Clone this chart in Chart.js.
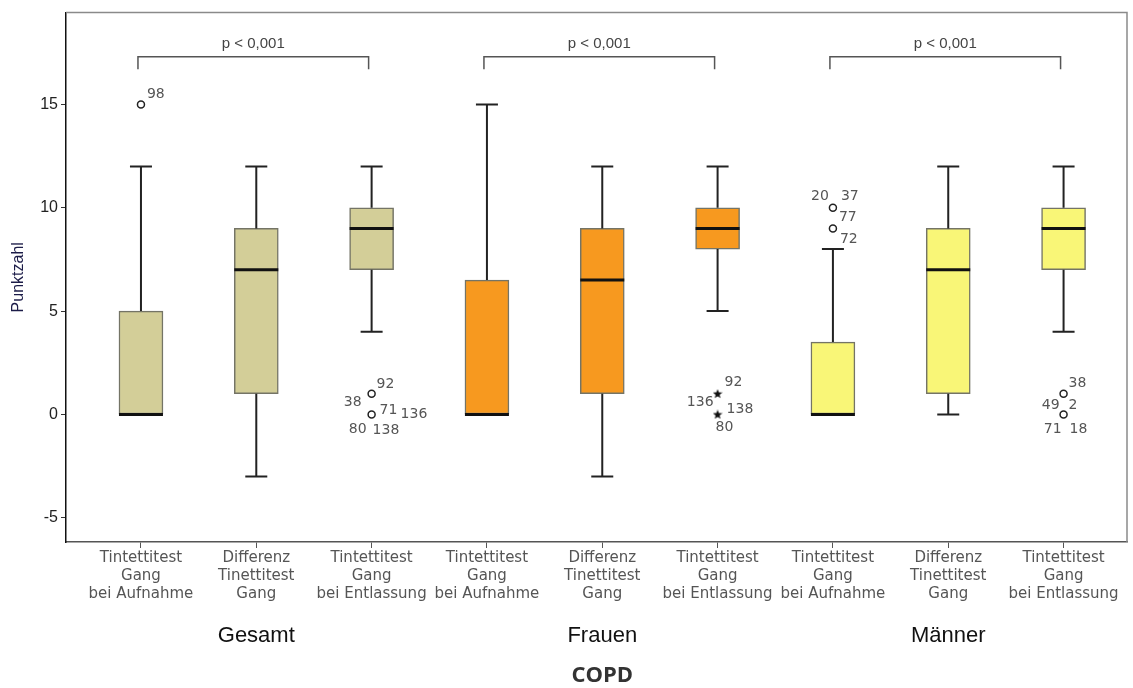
<!DOCTYPE html>
<html><head><meta charset="utf-8">
<script src="https://cdn.jsdelivr.net/npm/chart.js@4.4.0/dist/chart.umd.min.js"></script>
<style>html,body{margin:0;padding:0;background:#fff}#wrap{width:1133px;height:688px}</style>
</head><body><div id="wrap"><canvas id="c" width="1133" height="688"></canvas></div>
<script>
// ---------- data ----------
const categories = [
  ['Tintettitest','Gang','bei Aufnahme'], ['Differenz','Tinettitest','Gang'], ['Tintettitest','Gang','bei Entlassung'],
  ['Tintettitest','Gang','bei Aufnahme'], ['Differenz','Tinettitest','Gang'], ['Tintettitest','Gang','bei Entlassung'],
  ['Tintettitest','Gang','bei Aufnahme'], ['Differenz','Tinettitest','Gang'], ['Tintettitest','Gang','bei Entlassung']
];
const groups = ['Gesamt', 'Frauen', 'Männer'];
const boxGroup = [0,0,0, 1,1,1, 2,2,2];
const xTitle = 'COPD';
const yTitle = 'Punktzahl';
const yTickValues = [-5, 0, 5, 10, 15];

const whiskerLow  = [0, -3, 4,   0, -3, 5,   0, 0, 4];
const q1          = [0,  1, 7,   0,  1, 8,   0, 1, 7];
const median      = [0,  7, 9,   0, 6.5, 9,  0, 7, 9];
const q3          = [5,  9, 10,  6.5, 9, 10, 3.5, 9, 10];
const whiskerHigh = [12, 12, 12, 15, 12, 12, 8, 12, 12];

const outlierBox   = [0, 2, 2, 5, 5, 6, 6, 8, 8];
const outlierValue = [15, 1, 0, 1, 0, 10, 9, 1, 0];
const outlierKind  = ['o','o','o','*','*','o','o','o','o'];
const outlierIds   = [['98'], ['92','38'], ['71','136','80','138'], ['92','136'], ['138','80'],
                      ['20','37'], ['77','72'], ['38'], ['49','2','71','18']];

const pLabel = 'p < 0,001';
const compareFrom = [0, 3, 6];
const compareTo   = [2, 5, 8];

// ---------- styles / layout ----------
const groupColors = ['#D3CE98', '#F7991F', '#F9F677'];
const labelOffsets = [
  [[6,-10,'left']],
  [[5,-9,'left'], [-10,9,'right']],
  [[8,-4,'left'], [29,0,'left'], [-5,15,'right'], [1,16,'left']],
  [[7,-11,'left'], [-4,9,'right']],
  [[9,-5,'left'], [-2,13,'left']],
  [[-4,-11,'right'], [8,-11,'left']],
  [[6,-11,'left'], [7,11,'left']],
  [[5,-10,'left']],
  [[-4,-9,'right'], [5,-9,'left'], [-2,15,'right'], [6,15,'left']]
];
const bracketY = 17.3, bracketDrop = 0.6;

// filled 5-point star marker for extreme values
const starImg = document.createElement('canvas');
starImg.width = 10; starImg.height = 10;
(function () {
  const c = starImg.getContext('2d');
  c.fillStyle = '#111';
  c.beginPath();
  for (let k = 0; k < 10; k++) {
    const r = k % 2 === 0 ? 5 : 2.1;
    const ang = -Math.PI / 2 + k * Math.PI / 5;
    const px = 5 + r * Math.cos(ang), py = 5.3 + r * Math.sin(ang);
    if (k === 0) c.moveTo(px, py); else c.lineTo(px, py);
  }
  c.closePath();
  c.fill();
})();

const circleData = [], starData = [];
outlierBox.forEach((b, k) => {
  (outlierKind[k] === '*' ? starData : circleData).push({x: b, y: outlierValue[k]});
});

const boxPlugin = {
  id: 'boxparts',
  afterDatasetsDraw(chart) {
    const {ctx, scales: {x, y}} = chart;
    ctx.save();
    const cap = 11, half = 22;
    for (let i = 0; i < q1.length; i++) {
      const cx = x.getPixelForValue(i);
      ctx.strokeStyle = '#222';
      ctx.lineWidth = 2;
      ctx.beginPath();
      if (whiskerHigh[i] > q3[i]) {
        ctx.moveTo(cx, y.getPixelForValue(q3[i]));
        ctx.lineTo(cx, y.getPixelForValue(whiskerHigh[i]));
        ctx.moveTo(cx - cap, y.getPixelForValue(whiskerHigh[i]));
        ctx.lineTo(cx + cap, y.getPixelForValue(whiskerHigh[i]));
      }
      if (whiskerLow[i] < q1[i]) {
        ctx.moveTo(cx, y.getPixelForValue(q1[i]));
        ctx.lineTo(cx, y.getPixelForValue(whiskerLow[i]));
        ctx.moveTo(cx - cap, y.getPixelForValue(whiskerLow[i]));
        ctx.lineTo(cx + cap, y.getPixelForValue(whiskerLow[i]));
      }
      ctx.stroke();
      ctx.strokeStyle = '#111';
      ctx.lineWidth = 3;
      ctx.beginPath();
      const my = y.getPixelForValue(median[i]);
      ctx.moveTo(cx - half, my);
      ctx.lineTo(cx + half, my);
      ctx.stroke();
    }
    ctx.restore();
  },
  afterDraw(chart) {
    const {ctx, chartArea: a, scales: {x, y}} = chart;
    ctx.save();
    ctx.strokeStyle = '#8a8a8a';
    ctx.lineWidth = 1.5;
    ctx.beginPath();
    ctx.moveTo(a.left, a.top);
    ctx.lineTo(a.right, a.top);
    ctx.lineTo(a.right, a.bottom);
    ctx.stroke();
    ctx.font = '14px "DejaVu Sans"';
    ctx.fillStyle = '#555';
    ctx.textBaseline = 'middle';
    outlierIds.forEach((ids, k) => {
      const px = x.getPixelForValue(outlierBox[k]);
      const py = y.getPixelForValue(outlierValue[k]);
      ids.forEach((id, j) => {
        const o = labelOffsets[k][j];
        ctx.textAlign = o[2];
        ctx.fillText(id, px + o[0], py + o[1]);
      });
    });
    compareFrom.forEach((f, k) => {
      const x1 = x.getPixelForValue(f) - 3, x2 = x.getPixelForValue(compareTo[k]) - 3;
      const yl = y.getPixelForValue(bracketY), yb = y.getPixelForValue(bracketY - bracketDrop);
      ctx.strokeStyle = '#555';
      ctx.lineWidth = 1.5;
      ctx.beginPath();
      ctx.moveTo(x1, yb); ctx.lineTo(x1, yl); ctx.lineTo(x2, yl); ctx.lineTo(x2, yb);
      ctx.stroke();
      ctx.font = '15px "Liberation Sans", Arial';
      ctx.fillStyle = '#444';
      ctx.textAlign = 'center';
      ctx.fillText(pLabel, (x1 + x2) / 2, yl - 13);
    });
    ctx.font = '22px "Liberation Sans", Arial';
    ctx.fillStyle = '#111';
    ctx.textAlign = 'center';
    groups.forEach((g, k) => {
      const idx = boxGroup.indexOf(k) + 1;
      ctx.fillText(g, x.getPixelForValue(idx), 636);
    });
    ctx.font = 'bold 22px "Open Sans", "Liberation Sans"';
    ctx.fillStyle = '#333';
    ctx.fillText(xTitle, x.getPixelForValue(4), 676);
    ctx.restore();
  }
};

new Chart(document.getElementById('c'), {
  type: 'bar',
  data: {
    datasets: [
      {
        type: 'bar',
        data: q1.map((v, i) => ({x: i, y: [v, q3[i]]})),
        backgroundColor: boxGroup.map(g => groupColors[g]),
        borderColor: '#747466',
        borderWidth: 1.5,
        borderSkipped: false,
        barThickness: 44,
        order: 2
      },
      {
        type: 'scatter',
        data: circleData,
        pointStyle: 'circle',
        radius: 3.5,
        backgroundColor: '#fff',
        borderColor: '#222',
        borderWidth: 1.5,
        order: 1
      },
      {
        type: 'scatter',
        data: starData,
        pointStyle: starImg,
        radius: 5,
        order: 1
      }
    ]
  },
  options: {
    responsive: false,
    animation: false,
    devicePixelRatio: 1,
    layout: {padding: {left: 0, right: 3, top: 11, bottom: 0}},
    plugins: {legend: {display: false}, tooltip: {enabled: false}},
    scales: {
      x: {
        type: 'linear',
        offset: false,
        min: -0.65,
        max: 8.55,
        afterBuildTicks: s => { s.ticks = categories.map((c, i) => ({value: i})); },
        afterFit: s => { s.height = 146; },
        ticks: {
          callback: v => categories[v],
          font: {family: '"DejaVu Sans"', size: 15, lineHeight: 1.2},
          color: '#555',
          padding: 1,
          maxRotation: 0,
          autoSkip: false
        },
        grid: {display: true, offset: false, drawOnChartArea: false, drawTicks: true, tickLength: 6, color: '#555', lineWidth: 1},
        border: {display: true, color: '#555', width: 1.5}
      },
      y: {
        type: 'linear',
        min: -6.17,
        max: 19.44,
        afterBuildTicks: s => { s.ticks = yTickValues.map(v => ({value: v})); },
        afterFit: s => { s.width = 66; },
        ticks: {
          font: {family: '"Liberation Sans", Arial', size: 16},
          color: '#222',
          padding: 3
        },
        grid: {display: true, drawOnChartArea: false, drawTicks: true, tickLength: 5, color: '#333', lineWidth: 1},
        border: {display: true, color: '#111', width: 1.5},
        title: {
          display: true,
          text: yTitle,
          font: {family: '"Liberation Sans", Arial', size: 16},
          color: '#1c1c48',
          padding: {top: 9, bottom: 0}
        }
      }
    }
  },
  plugins: [boxPlugin]
});
</script>
</body></html>
